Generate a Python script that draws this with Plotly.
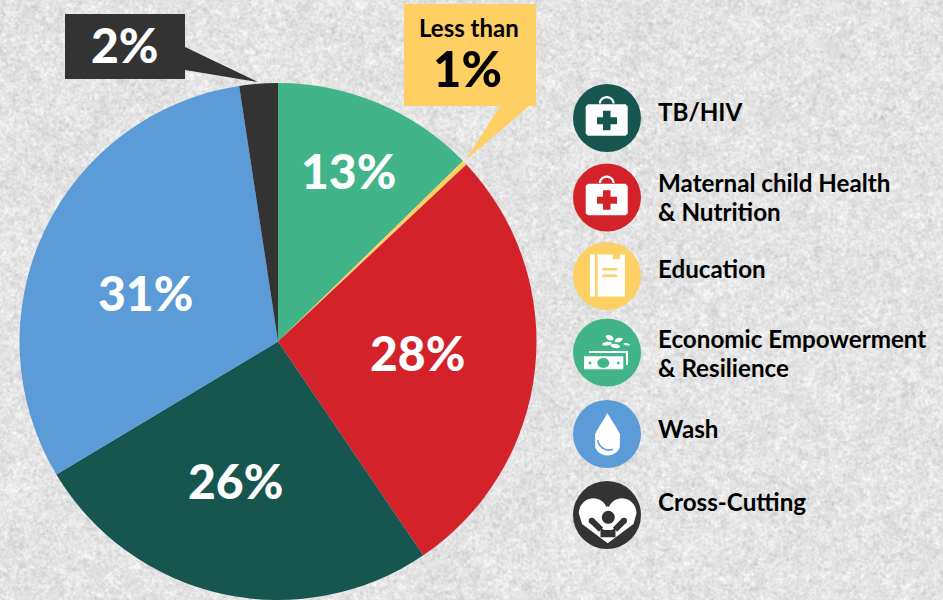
import base64, struct, zlib
import numpy as np
import plotly.graph_objects as go

W, H = 943, 600

# ---- data ----
slices = ["Economic Empowerment & Resilience", "Education", "Maternal child Health & Nutrition",
          "TB/HIV", "Wash", "Cross-Cutting"]
values = [12.7, 0.3, 27.5, 25.9, 31.2, 2.4]
slice_colors = ["#42b489", "#fecf62", "#d32229", "#17564f", "#5b9bd8", "#333333"]
pct_labels = ["13%", "28%", "26%", "31%"]
legend_lines = [["TB/HIV"], ["Maternal child Health", "& Nutrition"], ["Education"],
                ["Economic Empowerment", "& Resilience"], ["Wash"], ["Cross-Cutting"]]
legend_colors = ["#17564f", "#d32229", "#fecf62", "#42b489", "#5b9bd8", "#333333"]
callout_small = "2%"
callout_big = "1%"
callout_top = "Less than"

# ---- layout constants ----
pct_pos = [(348, 170), (417, 352), (235.5, 480), (145, 292)]
legend_cy = [118, 197.5, 276, 352.5, 434, 515]
legend_text_y = [[111], [183, 212], [269], [338, 367], [428], [501]]


def X(x):
    return x / W


def Y(y):
    return 1 - y / H


def path(points, close=True):
    s = " ".join(("M" if i == 0 else "L") + f"{X(a):.5f},{Y(b):.5f}" for i, (a, b) in enumerate(points))
    return s + (" Z" if close else "")


def poly(points, color):
    return dict(type="path", xref="paper", yref="paper", path=path(points), fillcolor=color,
                line=dict(width=0))


def ellipse(cx, cy, rx, ry, color):
    return dict(type="circle", xref="paper", yref="paper", x0=X(cx - rx), x1=X(cx + rx),
                y0=Y(cy + ry), y1=Y(cy - ry), fillcolor=color, line=dict(width=0))


def arc(cx, cy, rx, ry, a0, a1, n=24):
    t = np.radians(np.linspace(a0, a1, n))
    return [(cx + rx * np.cos(v), cy + ry * np.sin(v)) for v in t]


def leaf(cx, cy, length, width, angle):
    a = np.radians(angle)
    pts = []
    for t in np.linspace(0, 2 * np.pi, 20, endpoint=False):
        u, v = length * np.cos(t), width * np.sin(t) * abs(np.sin(t)) ** 0.3
        pts.append((cx + u * np.cos(a) - v * np.sin(a), cy + u * np.sin(a) + v * np.cos(a)))
    return poly(pts, "white")


def bar(x0, y0, x1, y1, w, color):
    dx, dy = x1 - x0, y1 - y0
    n = np.hypot(dx, dy)
    ox, oy = -dy / n * w / 2, dx / n * w / 2
    return poly([(x0 + ox, y0 + oy), (x1 + ox, y1 + oy), (x1 - ox, y1 - oy), (x0 - ox, y0 - oy)], color)


def texture():
    rng = np.random.default_rng(7)
    n = rng.standard_normal((H, W))
    fy = np.fft.fftfreq(H)[:, None]
    fx = np.fft.rfftfreq(W)[None, :]
    r = np.sqrt(fx ** 2 + fy ** 2) + 2e-3
    band = np.exp(-(r / 0.3) ** 2) / r ** 0.35
    t = np.fft.irfft2(np.fft.rfft2(n) * band, s=(H, W))
    t = (t - t.mean()) / t.std()
    img = np.clip(228 + 7 * t, 195, 248).astype(np.uint8)
    raw = b"".join(b"\x00" + img[i].tobytes() for i in range(H))

    def chunk(tag, d):
        return struct.pack(">I", len(d)) + tag + d + struct.pack(">I", zlib.crc32(tag + d) & 0xffffffff)

    png = b"\x89PNG\r\n\x1a\n" + chunk(b"IHDR", struct.pack(">IIBBBBB", W, H, 8, 0, 0, 0, 0)) + \
        chunk(b"IDAT", zlib.compress(raw, 9)) + chunk(b"IEND", b"")
    return "data:image/png;base64," + base64.b64encode(png).decode()


fig = go.Figure(go.Pie(labels=slices, values=values, sort=False, direction="clockwise", rotation=0,
                       marker=dict(colors=slice_colors, line=dict(width=0)), textinfo="none",
                       hoverinfo="label+percent",
                       domain=dict(x=[19.5 / W, 536.5 / W], y=[0, 517 / H])))

shapes = []
# callouts
shapes.append(poly([(65, 14), (185, 14), (185, 47), (258, 82), (185, 70), (185, 79), (65, 79)], "#333333"))
shapes.append(poly([(404, 4), (536, 4), (536, 106), (529, 106), (466, 160), (500, 106), (404, 106)], "#fecf62"))

# legend icon discs
for cy, c in zip(legend_cy, legend_colors):
    shapes.append(ellipse(607, cy, 34, 34, c))


def case(cy, color):
    top = cy - 13.7
    handle = arc(606.7, cy - 14.5, 6.8, 6.3, 180, 360)
    shapes.append(dict(type="path", xref="paper", yref="paper", path=path(handle, close=False),
                       line=dict(color="white", width=2.2)))
    shapes.append(poly([(588, top), (625.5, top), (627.7, top + 2.2), (627.7, top + 29.5), (625.5, top + 31.5),
                        (588, top + 31.5), (585.7, top + 29.5), (585.7, top + 2.2)], "white"))
    c = cy + 2.7
    shapes.append(poly([(603, c - 10), (610.5, c - 10), (610.5, c - 3.5), (617, c - 3.5), (617, c + 3.5),
                        (610.5, c + 3.5), (610.5, c + 9.5), (603, c + 9.5), (603, c + 3.5), (597, c + 3.5),
                        (597, c - 3.5), (603, c - 3.5)], color))


case(legend_cy[0], legend_colors[0])
case(legend_cy[1], legend_colors[1])

# book
shapes.append(poly([(590, 254.5), (595, 254.5), (595, 296.5), (590, 296.5)], "white"))
shapes.append(poly([(597.5, 254.5), (613, 254.5), (613, 259), (620, 259), (620, 254.5), (625, 254.5),
                    (625, 296.5), (597.5, 296.5)], "white"))
shapes.append(poly([(602, 268), (617, 268), (617, 270.5), (602, 270.5)], "#fecf62"))
shapes.append(poly([(602, 274.5), (617, 274.5), (617, 277), (602, 277)], "#fecf62"))

# money and leaves
shapes.append(poly([(589, 351), (628, 351), (628, 365), (589, 365)], "white"))
shapes.append(poly([(587, 353), (626, 353), (626, 366), (587, 366)], "#42b489"))
shapes.append(poly([(584, 356.3), (623.3, 356.3), (623.3, 369.3), (584, 369.3)], "white"))
shapes.append(ellipse(603.3, 363, 6, 5, "#42b489"))
shapes.append(ellipse(590, 363, 1.4, 1.4, "#42b489"))
shapes.append(ellipse(618.3, 363, 1.4, 1.4, "#42b489"))
shapes.append(leaf(609.7, 337.7, 4.3, 2.4, 25))
shapes.append(leaf(607, 343.7, 5, 1.9, -8))
shapes.append(leaf(615.3, 346, 5, 2.1, 10))
shapes.append(leaf(618.7, 340, 4.2, 2.0, -18))
shapes.append(leaf(626.7, 344.3, 3.5, 1.2, 10))

# drop
drop = [(607.3, 413), (604, 419), (599, 427), (595, 434)] + arc(607.5, 442, 13.5, 13.5, 155, 25, 20) + \
       [(620, 434), (616, 427), (611, 419)]
shapes.append(poly(drop, "white"))
shapes.append(dict(type="path", xref="paper", yref="paper",
                   path=path(arc(609, 438, 11.5, 12, 170, 70, 16), close=False),
                   line=dict(color="#5b9bd8", width=1.6)))

# heart with person
heart = [(607.7, 506)] + arc(622, 513.3, 14.5, 15, 205, 360, 16) + [(633.5, 524), (607.7, 543.3), (582, 524)] + \
        arc(593.3, 513.3, 14.5, 15, 180, 335, 16)
shapes.append(poly(heart, "white"))
shapes.append(ellipse(608.3, 517.3, 6.5, 6.5, "#333333"))
shapes.append(bar(591.7, 520.7, 601, 529.6, 6, "#333333"))
shapes.append(bar(624, 520.7, 615, 529.6, 6, "#333333"))
shapes.append(ellipse(591.7, 520.7, 3, 3, "#333333"))
shapes.append(ellipse(624, 520.7, 3, 3, "#333333"))
shapes.append(poly([(600.5, 527.5), (604, 530), (612, 530), (615.5, 527.5), (615.5, 537.3), (600.5, 537.3)], "#333333"))

ann = []


def text(x, y, s, size, color, anchor="center", weight=700):
    ann.append(dict(x=X(x), y=Y(y), xref="paper", yref="paper", text=s, showarrow=False, xanchor=anchor,
                    yanchor="middle", align="left", borderpad=0,
                    font=dict(family="Lato", size=size, color=color, weight=weight)))


for (x, y), s in zip(pct_pos, pct_labels):
    text(x, y, s, 48, "white", weight=900)
text(124.5, 45, callout_small, 48, "white", weight=900)
text(467, 68, callout_big, 49, "#000000", weight=900)
text(469, 27.5, callout_top, 24, "#000000")
for lines, ys in zip(legend_lines, legend_text_y):
    for s, y in zip(lines, ys):
        text(657, y, s, 24.2, "#000000", anchor="left")

fig.update_layout(width=W, height=H, margin=dict(l=0, r=0, t=0, b=0), showlegend=False,
                  paper_bgcolor="#e4e4e4", plot_bgcolor="#e4e4e4",
                  shapes=shapes, annotations=ann,
                  images=[dict(source=texture(), xref="paper", yref="paper", x=0, y=1, sizex=1, sizey=1,
                               xanchor="left", yanchor="top", sizing="stretch", layer="below")])

fig.write_html("out.html", config={"displayModeBar": False},
               default_width=f"{W}px", default_height=f"{H}px",
               post_script="document.body.style.margin='0';document.documentElement.style.background='#e4e4e4';")
